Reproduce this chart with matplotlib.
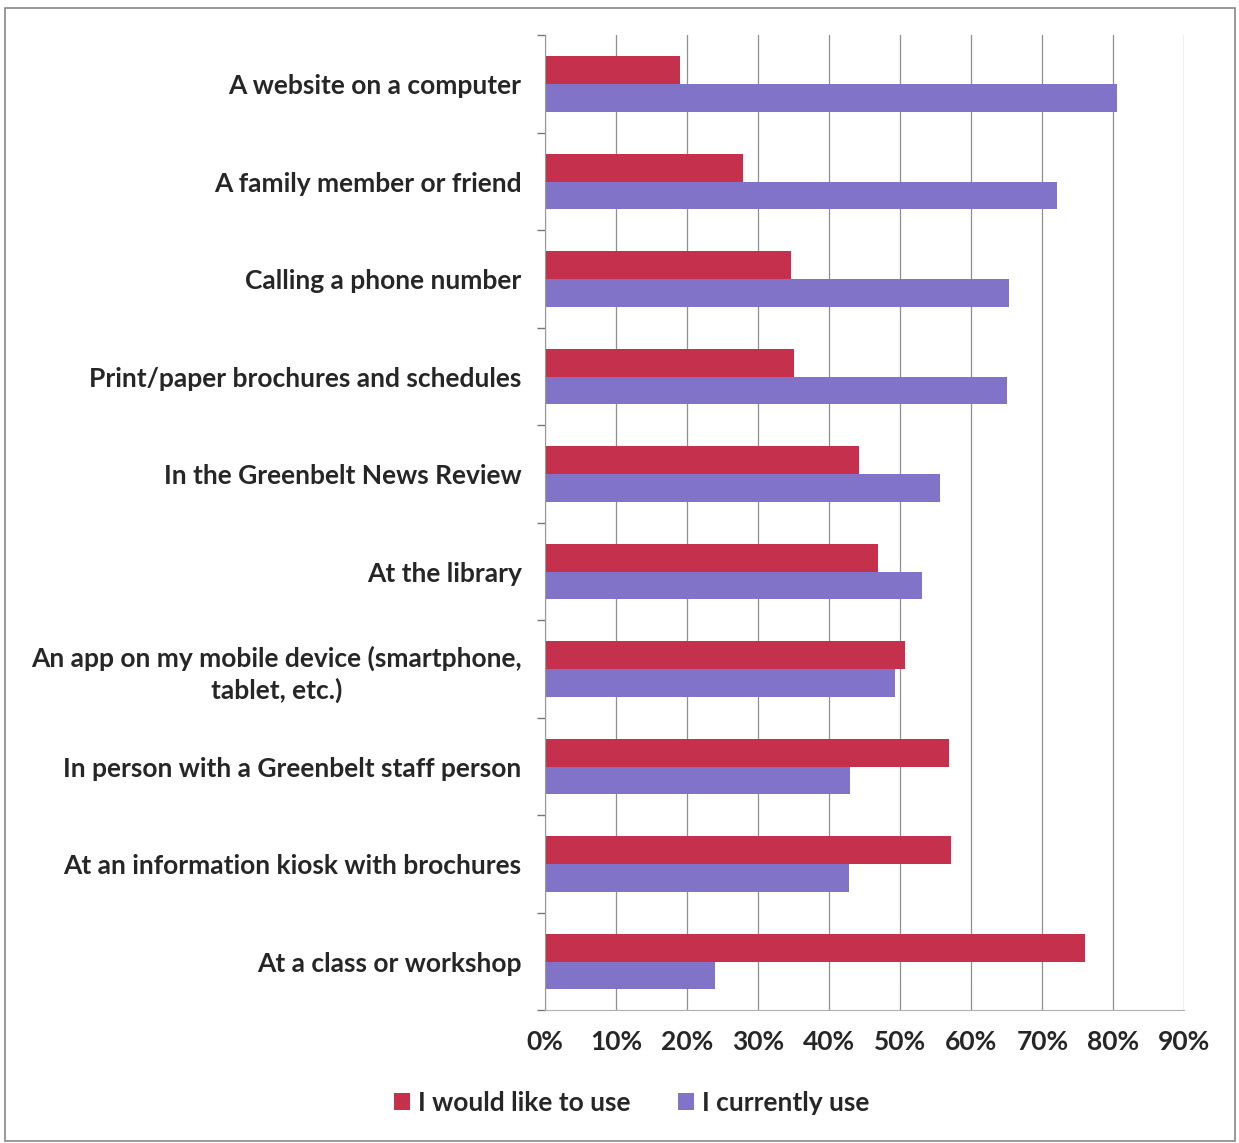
import matplotlib
matplotlib.use("Agg")
import matplotlib.pyplot as plt
import numpy as np
from matplotlib.patches import Rectangle

categories = [
    "A website on a computer",
    "A family member or friend",
    "Calling a phone number",
    "Print/paper brochures and schedules",
    "In the Greenbelt News Review",
    "At the library",
    "An app on my mobile device (smartphone,\ntablet, etc.)",
    "In person with a Greenbelt staff person",
    "At an information kiosk with brochures",
    "At a class or workshop",
]
would_like = [19, 27.8, 34.6, 35, 44.2, 46.9, 50.7, 56.9, 57.2, 76]
currently = [80.5, 72, 65.3, 65, 55.6, 53, 49.3, 42.9, 42.8, 23.9]
x_ticks = [0, 10, 20, 30, 40, 50, 60, 70, 80, 90]

red = "#C5314C"
blue = "#8173C7"
text_col = "#262626"

plt.rcParams["font.family"] = ["Lato", "DejaVu Sans"]

fig = plt.figure(figsize=(12.39, 11.43), dpi=100)
ax = fig.add_axes([0.440, 0.116, 0.516, 0.853])

y = np.arange(len(categories))
h = 0.285
ax.barh(y - h / 2, would_like, height=h, color=red, label="I would like to use")
ax.barh(y + h / 2, currently, height=h, color=blue, label="I currently use")

ax.set_xlim(0, 90)
ax.set_ylim(len(categories) - 0.5, -0.5)
ax.set_xticks(x_ticks)
ax.set_xticklabels([f"{v}%" for v in x_ticks], fontsize=19, fontweight="bold", color=text_col)
ax.set_yticks(y)
ax.set_yticklabels(categories, fontsize=19, fontweight="bold", color=text_col, linespacing=1.3)
for lbl in ax.get_yticklabels():
    lbl.set_multialignment("center")
ax.tick_params(axis="y", length=0, pad=17)
ax.tick_params(axis="x", length=0, pad=14)
ax.set_yticks(np.arange(len(categories) + 1) - 0.5, minor=True)
ax.tick_params(axis="y", which="minor", length=6, color="#777777", width=1)

ax.grid(axis="x", color="#8f8f8f", linewidth=0.9)
ax.set_axisbelow(True)
for s in ["top", "right"]:
    ax.spines[s].set_visible(False)
ax.spines["left"].set_color("#999999")
ax.spines["bottom"].set_color("#b0b0b0")

leg = fig.legend(loc="center", bbox_to_anchor=(0.51, 0.035), ncol=2, frameon=False,
                 fontsize=19, handlelength=0.6, handleheight=0.6, handletextpad=0.3,
                 columnspacing=1.8)
for t in leg.get_texts():
    t.set_fontweight("bold")
    t.set_color(text_col)

# outer frame
fig.patches.append(Rectangle((0.004, 0.002), 0.993, 0.991, transform=fig.transFigure,
                             fill=False, edgecolor="#888888", linewidth=1.2))

fig.savefig("out.png", dpi=100)
